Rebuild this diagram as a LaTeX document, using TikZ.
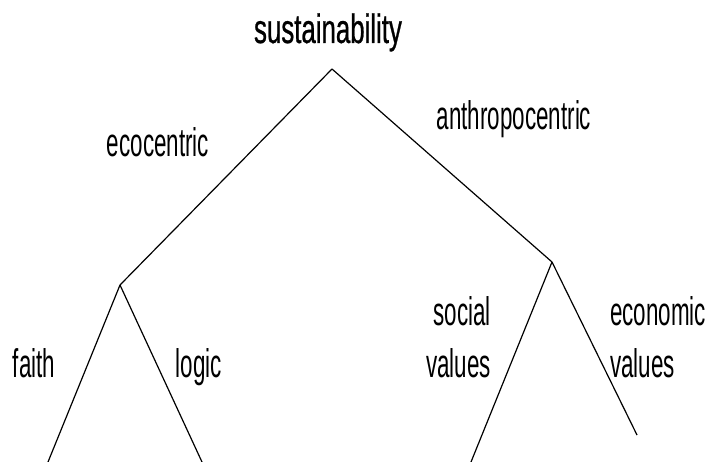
\documentclass[tikz,border=0pt]{standalone}
\usepackage{fontspec}
\newfontfamily\lblfont[FakeStretch=0.56]{Liberation Sans}
\newfontfamily\topfont[FakeStretch=0.63,FakeBold=0.6]{Liberation Sans}
\begin{document}
\begin{tikzpicture}[x=1pt,y=-1pt,
  branch/.style={draw=black,line width=1.2pt},
  lbl/.style={inner sep=0pt,font=\lblfont\fontsize{40}{52}\selectfont},
  toplbl/.style={inner sep=0pt,font=\topfont\fontsize{41}{50}\selectfont}]
\useasboundingbox (0,0) rectangle (711,462);
\fill[white] (0,0) rectangle (711,462);
% junctions and ends
\coordinate (root) at (332,69);
\coordinate (L) at (120,285);
\coordinate (R) at (552,262);
\coordinate (fa) at (48,462);
\coordinate (lo) at (202,462);
\coordinate (so) at (471,462);
\coordinate (ec) at (637,435);
% branches
\draw[branch] (root) -- (L);
\draw[branch] (root) -- (R);
\draw[branch] (L) -- (fa);
\draw[branch] (L) -- (lo);
\draw[branch] (R) -- (so);
\draw[branch] (R) -- (ec);
% labels
\node[toplbl,anchor=base] (title) at (328,43) {sustainability};
\node[lbl,anchor=base] (eco) at (158,157) {ecocentric};
\node[lbl,anchor=base] (anth) at (514,130) {anthropocentric};
\node[lbl,anchor=base] (faith) at (34,377) {faith};
\node[lbl,anchor=base] (logic) at (199,377) {logic};
\node[lbl,anchor=base east,align=right] (soc) at (491,377) {social\\values};
\node[lbl,anchor=base west,align=left] (econ) at (610,377) {economic\\values};
\end{tikzpicture}
\end{document}
